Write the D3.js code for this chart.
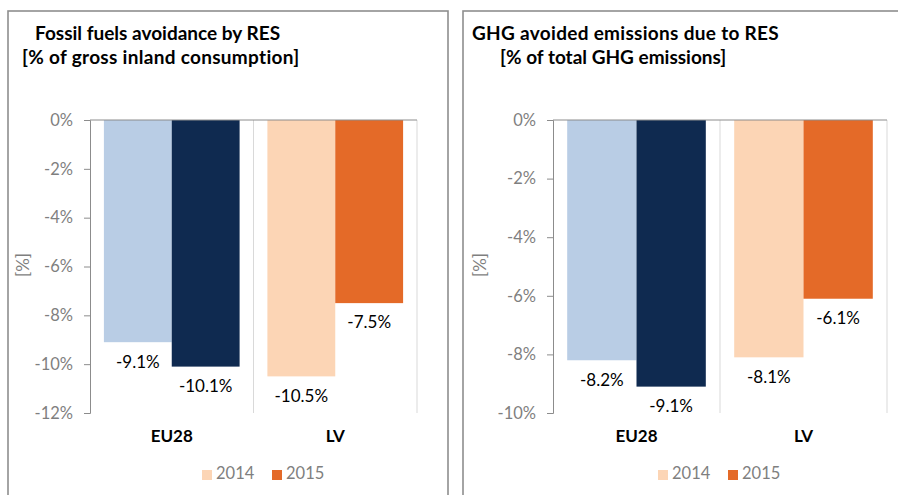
<!DOCTYPE html>
<html>
<head>
<meta charset="utf-8">
<script src="https://cdn.jsdelivr.net/npm/d3@7/dist/d3.min.js"></script>
<style>
  body{margin:0;background:#fff;}
  svg{display:block;font-family:Lato,"Open Sans",sans-serif;font-variant-ligatures:none;font-feature-settings:"liga" 0;}
</style>
</head>
<body>
<div id="chart"></div>
<script>
// data
var categories=["EU28","LV"];
var years=["2014","2015"];
var fossil2014=[-9.1,-10.5];
var fossil2015=[-10.1,-7.5];
var ghg2014=[-8.2,-8.1];
var ghg2015=[-9.1,-6.1];
var fossilTicks=[0,-2,-4,-6,-8,-10,-12];
var ghgTicks=[0,-2,-4,-6,-8,-10];

// colours per category, one for each year
var barColors={EU28:["#b9cde5","#0f2a50"],LV:["#fcd5b5","#e46a28"]};
var legendColors=["#fcd5b5","#e46a28"];

var svg=d3.select("#chart").append("svg")
  .attr("width",898)
  .attr("height",495);

function pct(v){
  // plain hyphen like the original, not the unicode minus
  return v.toFixed(1)+"%";
}

function drawPanel(option){
  var g=svg.append("g");
  var box=option.box;
  // panel frame
  g.append("rect")
    .attr("x",box.x).attr("y",box.y)
    .attr("width",box.w).attr("height",box.h)
    .attr("fill","none").attr("stroke","#8e8e8e").attr("stroke-width",1.6);

  var title=g.append("text").attr("font-weight","bold").attr("font-size",19).attr("fill","#000");
  option.title.forEach(function(t,i){
    title.append("tspan").attr("x",t.x).attr("y",t.y).attr("letter-spacing",t.ls||0).text(t.text);
  });

  var y=d3.scaleLinear().domain([0,option.min]).range([120,413]);
  var x=d3.scaleBand().domain(categories).range([option.left,option.right]);
  var bw=x.bandwidth();
  var xs=d3.scaleBand().domain(years).range([bw*0.085,bw*0.915]);

  // vertical separators between categories
  g.selectAll(".sep").data(categories).enter().append("line")
    .attr("x1",function(d){return x(d)+bw;}).attr("x2",function(d){return x(d)+bw;})
    .attr("y1",y(0)).attr("y2",y(option.min))
    .attr("stroke","#d9d9d9").attr("stroke-width",1);

  // bars
  categories.forEach(function(c,ci){
    years.forEach(function(yr,yi){
      var v=option.series[yi][ci];
      g.append("rect")
        .attr("x",x(c)+xs(yr))
        .attr("y",y(0))
        .attr("width",xs.bandwidth())
        .attr("height",y(v)-y(0))
        .attr("fill",barColors[c][yi]);
      g.append("text")
        .attr("x",x(c)+xs(yr)+xs.bandwidth()/2)
        .attr("y",y(v)+21)
        .attr("text-anchor","middle")
        .attr("dominant-baseline","middle")
        .attr("font-size",17)
        .attr("fill","#000")
        .text(pct(v));
    });
  });

  // y axis
  var yAxis=d3.axisLeft(y).tickValues(option.ticks).tickSize(6).tickPadding(11)
    .tickFormat(function(d){return d+"%";});
  var ga=g.append("g").attr("transform","translate("+option.left+",0)").call(yAxis);
  ga.select(".domain").attr("stroke","#8c8c8c");
  ga.selectAll(".tick line").attr("stroke","#8c8c8c");
  ga.selectAll(".tick text").attr("fill","#7f7f7f").attr("font-size",16.5).attr("font-family","Lato");

  // zero line
  g.append("line")
    .attr("x1",option.left).attr("x2",option.right)
    .attr("y1",y(0)).attr("y2",y(0))
    .attr("stroke","#8c8c8c").attr("stroke-width",1);

  // y title
  g.append("text")
    .attr("transform","translate("+option.yTitleX+",265) rotate(-90)")
    .attr("text-anchor","middle").attr("dominant-baseline","middle")
    .attr("font-size",17).attr("fill","#7f7f7f").text("[%]");

  // category labels
  g.selectAll(".cat").data(categories).enter().append("text")
    .attr("x",function(d){return x(d)+bw/2;})
    .attr("y",438)
    .attr("text-anchor","middle").attr("dominant-baseline","middle")
    .attr("font-weight","bold").attr("font-size",17).attr("fill","#000")
    .text(function(d){return d;});

  // legend
  var lg=g.append("g").attr("transform","translate("+option.legendX+",475)");
  years.forEach(function(yr,i){
    lg.append("rect").attr("x",i*70).attr("y",-5).attr("width",10).attr("height",10).attr("fill",legendColors[i]);
    lg.append("text").attr("x",i*70+14).attr("y",0)
      .attr("dominant-baseline","middle").attr("font-size",16.5).attr("fill","#7f7f7f").text(yr);
  });
}

drawPanel({
  box:{x:8,y:11,w:440,h:500},
  title:[{x:35,y:40,text:"Fossil fuels avoidance by RES"},{x:22,y:64,ls:0.3,text:"[% of gross inland consumption]"}],
  left:90,right:417,min:-12,ticks:fossilTicks,
  series:[fossil2014,fossil2015],
  yTitleX:25,legendX:202
});
drawPanel({
  box:{x:463,y:11,w:460,h:500},
  title:[{x:472,y:40,ls:0.3,text:"GHG avoided emissions due to RES"},{x:500,y:64,text:"[% of total GHG emissions]"}],
  left:553,right:887,min:-10,ticks:ghgTicks,
  series:[ghg2014,ghg2015],
  yTitleX:482,legendX:658
});
</script>
</body>
</html>
